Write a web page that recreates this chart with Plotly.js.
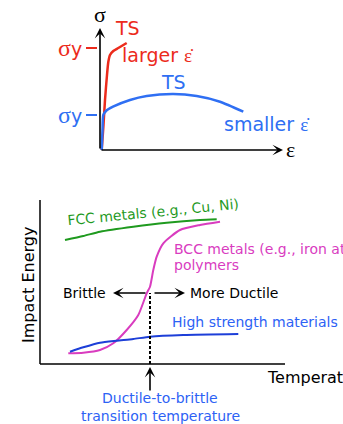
<!DOCTYPE html>
<html>
<head>
<meta charset="utf-8">
<script src="https://cdn.plot.ly/plotly-3.0.1.min.js"></script>
<style>
  html, body { margin: 0; padding: 0; background: #fff; }
  #chart { width: 343px; height: 424px; }
</style>
</head>
<body>
<div id="chart"></div>
<script>
// Stress-strain response at two strain rates (arbitrary units)
const strainFast = [0.85, 1.75, 2.5, 3.5, 4.15, 5, 6.65, 9.15, 13.35];
const stressFast = [0, 25, 50, 75, 88, 95, 99, 102, 107];
const strainSlow = [0.85, 1.25, 1.65, 3, 6.5, 15, 23.35, 36.65, 48.35, 60, 71.65];
const stressSlow = [0, 20, 35, 39, 43.3, 50, 54, 56, 54, 48.3, 38.3];
const yieldStress = [102, 35];          // larger rate, smaller rate
const yieldColors = ['#ec2b1c', '#2f6ff3'];

// Impact energy vs temperature (arbitrary units)
const tempFCC = [25, 43.3, 60, 93.3, 126.7, 160, 176.7];
const energyFCC = [124, 128, 132.3, 137.3, 141.3, 144, 144.7];
const tempBCC = [28.3, 43.3, 60, 73.3, 86.7, 98.3, 106.7, 110, 113.3, 116.7, 123.3, 140, 160, 180];
const energyBCC = [10.7, 11.3, 14, 20.7, 34, 49, 70.7, 77.3, 94, 107.3, 120.7, 134, 139, 142.3];
const tempHS = [30, 43.3, 60, 76.7, 93.3, 110, 143.3, 198.3];
const energyHS = [12.3, 16.7, 21.3, 23.3, 25, 27.3, 29, 30];
const transitionTemp = 110;
const transitionEnergy = 71;
const tempMax = 245, energyMax = 164;   // extent of the drawn axes

const SANS = 'DejaVu Sans';
const SERIF = 'Liberation Serif';
const RED = '#ec2b1c', BLUE = '#2f6ff3';
const GREEN = '#1f9a1f', MAGENTA = '#d93cbf', NAVY = '#1d3fd8', TXTBLUE = '#2d62f5';

const traces = [
  { x: strainFast, y: stressFast, xaxis: 'x', yaxis: 'y', mode: 'lines',
    line: { color: RED, width: 2.5, shape: 'spline', smoothing: 0.6 } },
  { x: strainSlow, y: stressSlow, xaxis: 'x', yaxis: 'y', mode: 'lines',
    line: { color: BLUE, width: 2.5, shape: 'spline', smoothing: 0.6 } }
];
// short yield-stress ticks on the stress axis
yieldStress.forEach((s, i) => traces.push({
  x: [-7, -1.5], y: [s, s], xaxis: 'x', yaxis: 'y', mode: 'lines',
  line: { color: yieldColors[i], width: 2 }
}));
traces.push(
  { x: tempFCC, y: energyFCC, xaxis: 'x2', yaxis: 'y2', mode: 'lines',
    line: { color: GREEN, width: 2, shape: 'spline', smoothing: 0.6 } },
  { x: tempBCC, y: energyBCC, xaxis: 'x2', yaxis: 'y2', mode: 'lines',
    line: { color: MAGENTA, width: 2, shape: 'spline', smoothing: 0.6 } },
  { x: tempHS, y: energyHS, xaxis: 'x2', yaxis: 'y2', mode: 'lines',
    line: { color: NAVY, width: 2, shape: 'spline', smoothing: 0.6 } },
  { x: [transitionTemp, transitionTemp], y: [0, transitionEnergy], xaxis: 'x2', yaxis: 'y2',
    mode: 'lines', line: { color: '#000', width: 2, dash: '3px,2px' } }
);

function txt(ref, x, y, text, opts) {
  return Object.assign({
    xref: ref[0], yref: ref[1], x: x, y: y, text: text, showarrow: false,
    xanchor: 'center', yanchor: 'middle',
    font: { family: SANS, size: 14, color: '#000' }
  }, opts || {});
}
function arrow(ref, x, y, ax, ay) {
  return {
    xref: ref[0], yref: ref[1], axref: ref[0], ayref: ref[1],
    x: x, y: y, ax: ax, ay: ay, text: '', showarrow: true,
    arrowhead: 3, arrowsize: 1.1, arrowwidth: 1.6, arrowcolor: '#000', standoff: 0
  };
}
const T = ['x', 'y'], B = ['x2', 'y2'];
const peakFast = stressFast.indexOf(Math.max(...stressFast));
const peakSlow = stressSlow.indexOf(Math.max(...stressSlow));

const annotations = [
  // top: stress and strain axes
  arrow(T, 0, 122, 0, 0),
  arrow(T, 91.5, 0, 0, 0),
  txt(T, 0, 122, 'σ', { yshift: 14, font: { family: SERIF, size: 22, color: '#000' } }),
  txt(T, 91.5, 0, 'ε', { xanchor: 'left', xshift: 1, yshift: 1, font: { family: SERIF, size: 22, color: '#000' } }),
  txt(T, strainFast[peakFast], stressFast[peakFast], 'TS',
      { yshift: 15, xshift: 1, font: { family: SANS, size: 19, color: RED } }),
  txt(T, 10, stressFast[peakFast], 'larger <span style="font-family:Liberation Serif;font-size:19px">ε̇</span>',
      { xanchor: 'left', yshift: -12, font: { family: SANS, size: 19, color: RED } }),
  txt(T, strainSlow[peakSlow], stressSlow[peakSlow], 'TS',
      { yshift: 12, font: { family: SANS, size: 19, color: BLUE } }),
  txt(T, 61, stressSlow[stressSlow.length - 1], 'smaller <span style="font-family:Liberation Serif;font-size:19px">ε̇</span>',
      { xanchor: 'left', yshift: -12, font: { family: SANS, size: 19, color: BLUE } }),
  txt(T, -8, yieldStress[0], '<span style="font-family:Liberation Serif;font-size:24px">σ</span>y',
      { xanchor: 'right', font: { family: SANS, size: 19, color: RED } }),
  txt(T, -8, yieldStress[1], '<span style="font-family:Liberation Serif;font-size:24px">σ</span>y',
      { xanchor: 'right', font: { family: SANS, size: 19, color: BLUE } }),

  // bottom: labels
  txt(B, -12, 79, 'Impact Energy',
      { textangle: -90, font: { family: SANS, size: 16, color: '#000' } }),
  txt(B, 225, -13, 'Temperature (°C)', { xanchor: 'left', font: { family: SANS, size: 16, color: '#000' } }),
  txt(B, 113, 152, 'FCC metals (e.g., Cu, Ni)',
      { textangle: -5.5, font: { family: SANS, size: 14, color: GREEN } }),
  txt(B, 132, 115, 'BCC metals (e.g., iron at T < 914°C)',
      { xanchor: 'left', font: { family: SANS, size: 14, color: MAGENTA } }),
  txt(B, 132, 99, 'polymers',
      { xanchor: 'left', font: { family: SANS, size: 14, color: MAGENTA } }),
  txt(B, 130, 42, 'High strength materials (σy > E/150)',
      { xanchor: 'left', font: { family: SANS, size: 14, color: TXTBLUE } }),
  txt(B, 68, transitionEnergy, 'Brittle', { xanchor: 'right' }),
  txt(B, 148, transitionEnergy, 'More Ductile', { xanchor: 'left' }),
  arrow(B, 73, transitionEnergy, 107, transitionEnergy),
  arrow(B, 145, transitionEnergy, 113, transitionEnergy),
  arrow(B, transitionTemp, -3, transitionTemp, -28),
  txt(B, transitionTemp, -34, 'Ductile-to-brittle',
      { xshift: 10, font: { family: SANS, size: 14, color: TXTBLUE } }),
  txt(B, transitionTemp, -52, 'transition temperature',
      { xshift: 10, font: { family: SANS, size: 14, color: TXTBLUE } })
];

// axis lines of the impact-energy panel
const shapes = [
  { type: 'line', xref: 'x2', yref: 'y2', x0: 0, x1: tempMax, y0: 0, y1: 0,
    line: { color: '#000', width: 1.5 } },
  { type: 'line', xref: 'x2', yref: 'y2', x0: 0, x1: 0, y0: 0, y1: energyMax,
    line: { color: '#000', width: 1.5 } }
];

const hidden = { visible: false, fixedrange: true };
const layout = {
  width: 343, height: 424,
  margin: { l: 0, r: 0, t: 0, b: 0 },
  paper_bgcolor: '#fff', plot_bgcolor: 'rgba(0,0,0,0)',
  showlegend: false,
  xaxis: Object.assign({ domain: [50 / 343, 300 / 343], range: [-25, 100] }, hidden),
  yaxis: Object.assign({ domain: [1 - 150 / 424, 1 - 10 / 424], range: [0, 140] }, hidden),
  xaxis2: Object.assign({ domain: [0, 1], range: [-40, 303], anchor: 'y2' }, hidden),
  yaxis2: Object.assign({ domain: [0, 1 - 196 / 424], range: [-60, 168], anchor: 'x2' }, hidden),
  shapes: shapes,
  annotations: annotations
};

Plotly.newPlot('chart', traces, layout, { displayModeBar: false, staticPlot: true });
</script>
</body>
</html>
